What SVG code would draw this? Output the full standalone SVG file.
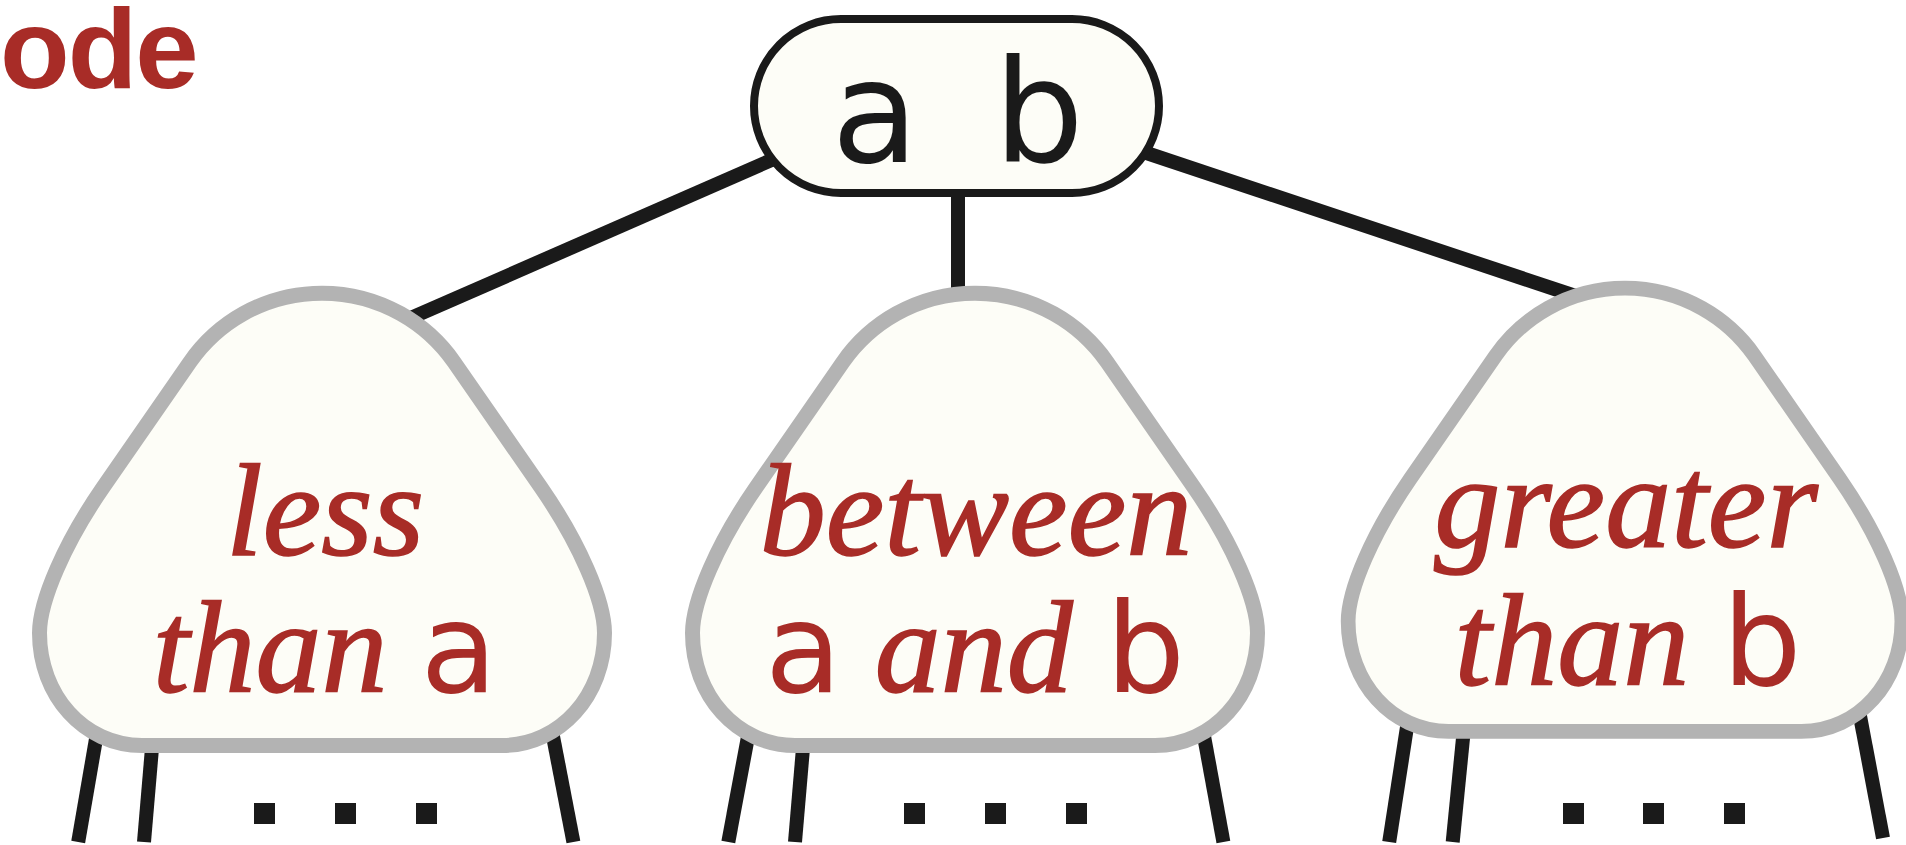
<svg xmlns="http://www.w3.org/2000/svg" width="1906" height="845" viewBox="0 0 1906 845">
<style>
.edge { stroke: #1a1a1a; stroke-width: 14; fill: none; stroke-linecap: butt; }
.tri { fill: #fdfdf7; stroke: #b3b3b3; stroke-width: 15; stroke-linejoin: round; }
.pill { fill: #fdfdf7; stroke: #1a1a1a; stroke-width: 8; }
.key { font-family: "DejaVu Sans", "Liberation Sans", sans-serif; font-size: 142px; fill: #1a1a1a; }
.it { font-family: "Liberation Serif", "DejaVu Serif", serif; font-style: italic; font-size: 132px; fill: #a82c27; stroke: #a82c27; stroke-width: 1.6; }
.up { font-family: "DejaVu Sans", "Liberation Sans", sans-serif; font-style: normal; font-size: 125px; stroke-width: 0; }
.title { font-family: "Liberation Sans", Arial, sans-serif; font-weight: bold; font-size: 114px; fill: #a82c27; letter-spacing: -2px; }
.dot { fill: #1a1a1a; }
</style>
<defs>
<path id="subtree" d="M -132,69.5 A 161 161 0 0 1 132,69.5 L 219,195 C 257,250 282.5,308 282.5,340.5 C 282.5,402.6 238.2,453 180,453 L -180,453 C -238.2,453 -282.5,402.6 -282.5,340.5 C -282.5,308 -257,250 -219,195 Z"/>
</defs>
<rect width="1906" height="845" fill="#ffffff"/>
<text id="title" class="title" x="0" y="88">ode</text>
<g id="connectors">
<line class="edge" x1="800" y1="147.5" x2="400" y2="322.7"/>
<line class="edge" x1="958" y1="180" x2="958" y2="305"/>
<line class="edge" x1="1130" y1="147.5" x2="1580" y2="297.5"/>
<line class="edge" x1="102.7" y1="700" x2="78.2" y2="842"/>
<line class="edge" x1="154.4" y1="720" x2="144" y2="842"/>
<line class="edge" x1="546" y1="700" x2="573.4" y2="842"/>
<line class="edge" x1="753.9" y1="705" x2="728.3" y2="842"/>
<line class="edge" x1="805.4" y1="720" x2="795" y2="842"/>
<line class="edge" x1="1197.4" y1="700" x2="1223.4" y2="842"/>
<line class="edge" x1="1410.4" y1="705" x2="1389.2" y2="842"/>
<line class="edge" x1="1464.8" y1="720" x2="1452.7" y2="842"/>
<line class="edge" x1="1857" y1="700" x2="1883" y2="838"/>
</g>
<g id="ellipsis">
<rect class="dot" x="254" y="803" width="21" height="21"/>
<rect class="dot" x="335" y="803" width="21" height="21"/>
<rect class="dot" x="416" y="803" width="21" height="21"/>
<rect class="dot" x="904" y="803" width="21" height="21"/>
<rect class="dot" x="985" y="803" width="21" height="21"/>
<rect class="dot" x="1066" y="803" width="21" height="21"/>
<rect class="dot" x="1563" y="803" width="21" height="21"/>
<rect class="dot" x="1643" y="803" width="21" height="21"/>
<rect class="dot" x="1724" y="803" width="21" height="21"/>
</g>
<g id="root">
<rect class="pill" x="754" y="19" width="405" height="174" rx="87" ry="87"/>
<text class="key" x="831.5" y="162" word-spacing="30">a b</text>
</g>
<g id="less">
<use href="#subtree" class="tri" transform="translate(322,292.5)"/>
<text class="it" text-anchor="middle" x="325" y="555">less</text>
<text class="it" text-anchor="middle" x="325" y="692">than <tspan class="up">a</tspan></text>
</g>
<g id="between">
<use href="#subtree" class="tri" transform="translate(975,292.5)"/>
<text class="it" text-anchor="middle" x="976" y="555">between</text>
<text class="it" text-anchor="middle" x="975" y="692"><tspan class="up">a</tspan> and <tspan class="up">b</tspan></text>
</g>
<g id="greater">
<use href="#subtree" class="tri" transform="translate(1625,287.5) scale(0.98)"/>
<text class="it" text-anchor="middle" x="1626" y="547">greater</text>
<text class="it" text-anchor="middle" x="1628" y="685">than <tspan class="up">b</tspan></text>
</g>
</svg>
